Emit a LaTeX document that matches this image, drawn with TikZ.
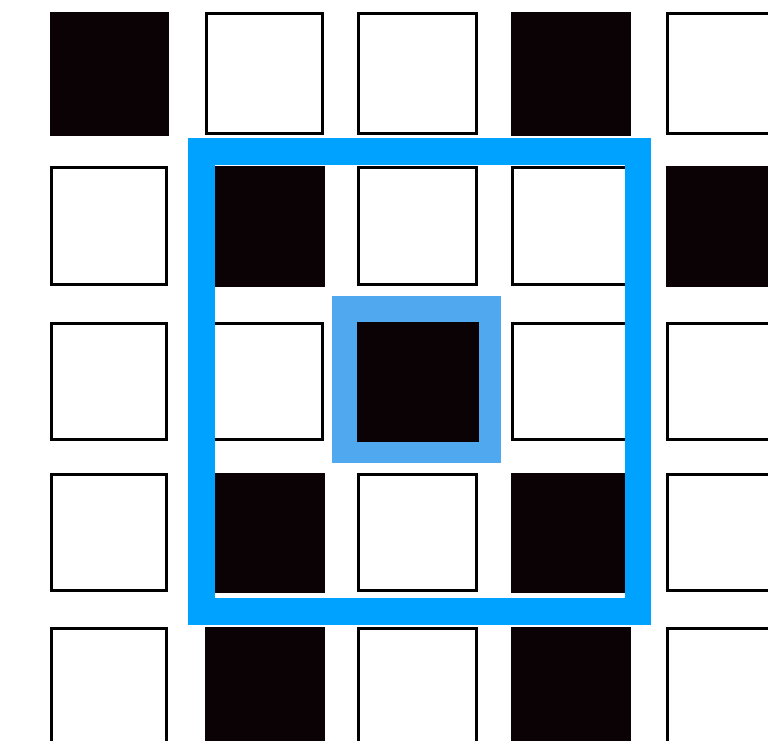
\documentclass[tikz,border=0pt]{standalone}
\definecolor{frameblue}{RGB}{0,162,255}
\definecolor{hiblue}{RGB}{80,168,238}
\definecolor{cellblack}{RGB}{10,2,5}
\tikzset{
  whitecell/.style={draw=black, fill=white, line width=2.6pt},
  blackcell/.style={draw=cellblack, fill=cellblack, line width=0.5pt},
}
\begin{document}
\begin{tikzpicture}[x=1pt,y=-1pt]
\useasboundingbox (0,0) rectangle (768,741);
\fill[white] (0,0) rectangle (768,741);
\begin{scope}
\clip (0,0) rectangle (768,741);
% pattern: 1 = black, 0 = white
\def\xs{{50,205,357,511,666}}
\def\xe{{168,324,478,630,785}}
\def\ys{{12,166,322,473,627}}
\def\ye{{135,286,441,592,746}}
\def\pat{{{1,0,0,1,0},{0,1,0,0,1},{0,0,1,0,0},{0,1,0,1,0},{0,1,0,1,0}}}
% highlight behind the centre cell
\fill[hiblue] (332,296) rectangle (501,463);
\foreach \r in {0,...,4}{
  \foreach \c in {0,...,4}{
    \pgfmathsetmacro{\xa}{\xs[\c]}
    \pgfmathsetmacro{\xb}{\xe[\c]}
    \pgfmathsetmacro{\ya}{\ys[\r]}
    \pgfmathsetmacro{\yb}{\ye[\r]}
    \pgfmathtruncatemacro{\v}{\pat[\r][\c]}
    \ifnum\v=1
      \draw[blackcell] (\xa,\ya) rectangle (\xb,\yb);
    \else
      \draw[whitecell] (\xa+1.3,\ya+1.3) rectangle (\xb-1.3,\yb-1.3);
    \fi
  }
}
% big window frame
\draw[frameblue, line width=26.5pt] (201.25,151.25) rectangle (637.75,611.25);
\end{scope}
\end{tikzpicture}
\end{document}
